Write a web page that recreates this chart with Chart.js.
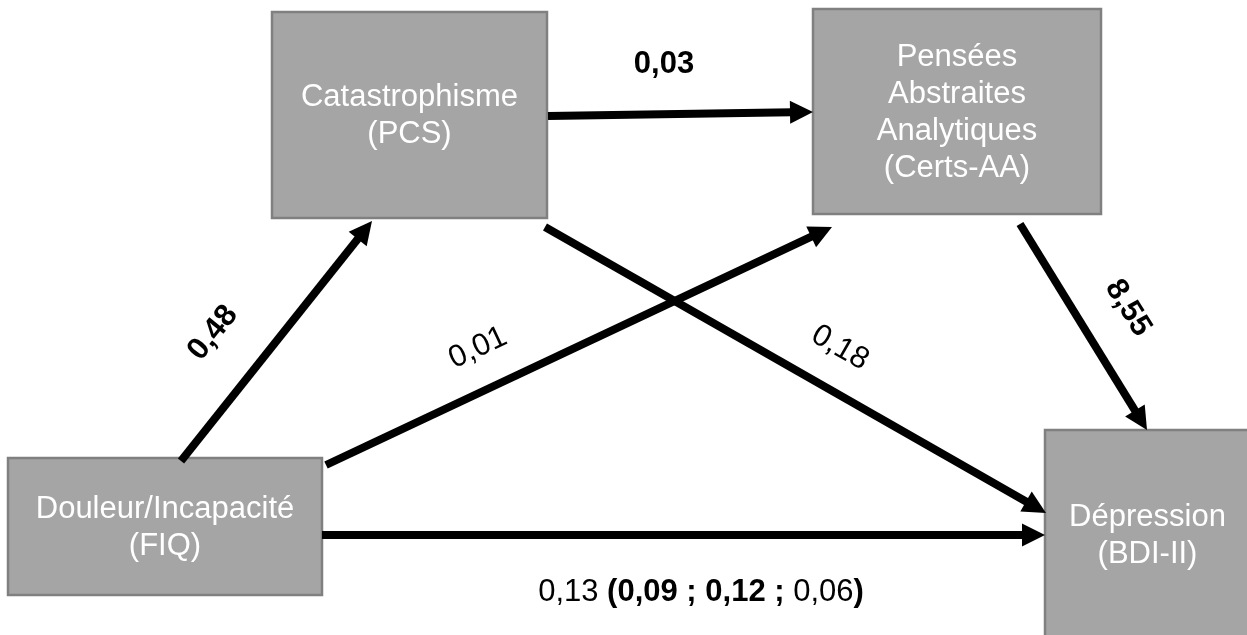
<!DOCTYPE html>
<html>
<head>
<meta charset="utf-8">
<script src="https://cdn.jsdelivr.net/npm/chart.js@4.4.1/dist/chart.umd.min.js"></script>
<style>
  html, body { margin: 0; padding: 0; background: #ffffff; overflow: hidden; }
  #diagram { display: block; }
</style>
</head>
<body>
<canvas id="diagram" width="1247" height="635"></canvas>
<script>
// variables (boxes)
const nodeKeys = ["pcs", "certs", "fiq", "bdi"];
const nodeLabels = [
    ["Catastrophisme", "(PCS)"],
    ["Pensées", "Abstraites", "Analytiques", "(Certs-AA)"],
    ["Douleur/Incapacité", "(FIQ)"],
    ["Dépression", "(BDI-II)"]
];

// paths and coefficients
const pathFrom = ["fiq", "fiq", "pcs", "pcs", "certs", "fiq"];
const pathTo = ["pcs", "certs", "certs", "bdi", "bdi", "bdi"];
const pathCoef = ["0,48", "0,01", "0,03", "0,18", "8,55", "0,13"];
const pathBold = [true, false, true, false, true, false];

// indirect effects shown after the direct effect FIQ -> BDI
const indirectCoef = ["0,09", "0,12", "0,06"];
const indirectBold = [true, true, false];

// layout (diagram units = pixels of the 1247x635 frame)
const boxLayout = {
    pcs:   { x0: 272,  y0: 12,  x1: 547,  y1: 218 },
    certs: { x0: 813,  y0: 9,   x1: 1101, y1: 214 },
    fiq:   { x0: 8,    y0: 458, x1: 322,  y1: 595 },
    bdi:   { x0: 1045, y0: 430, x1: 1250, y1: 640 }
};
const arrowLayout = [
    { from: [181, 461], to: [372, 221] },
    { from: [326, 465], to: [832, 227] },
    { from: [548, 116], to: [813, 112] },
    { from: [545, 227], to: [1046, 513] },
    { from: [1020, 224], to: [1147, 430] },
    { from: [322, 535], to: [1045, 535] }
];
const labelLayout = [
    { x: 213, y: 333, angle: -51 },
    { x: 478, y: 348, angle: -25 },
    { x: 664, y: 64,  angle: 0 },
    { x: 840, y: 348, angle: 30 },
    { x: 1128, y: 308, angle: 58 },
    { x: 701, y: 592, angle: 0 }
];

const FONT = "'Liberation Sans', Arial, sans-serif";
const FONT_SIZE = 31;
const LINE_HEIGHT = 37;

function font(bold) {
    return (bold ? "bold " : "") + FONT_SIZE + "px " + FONT;
}

const diagramPlugin = {
    id: "diagram",
    beforeDatasetsDraw(chart) {
        const ctx = chart.ctx;
        const xs = chart.scales.x, ys = chart.scales.y;
        ctx.save();
        nodeKeys.forEach((key, i) => {
            const b = boxLayout[key];
            const px0 = xs.getPixelForValue(b.x0), px1 = xs.getPixelForValue(b.x1);
            const py0 = ys.getPixelForValue(b.y0), py1 = ys.getPixelForValue(b.y1);
            ctx.fillStyle = "#a5a5a5";
            ctx.fillRect(px0, py0, px1 - px0, py1 - py0);
            ctx.strokeStyle = "#808080";
            ctx.lineWidth = 2.5;
            ctx.strokeRect(px0, py0, px1 - px0, py1 - py0);

            const lines = nodeLabels[i];
            const cx = (px0 + px1) / 2;
            const cy = (py0 + py1) / 2;
            ctx.fillStyle = "#ffffff";
            ctx.font = font(false);
            ctx.textAlign = "center";
            ctx.textBaseline = "middle";
            const top = cy - (lines.length - 1) * LINE_HEIGHT / 2;
            lines.forEach((t, j) => ctx.fillText(t, cx, top + j * LINE_HEIGHT + 1));
        });
        ctx.restore();
    },
    afterDatasetsDraw(chart) {
        const ctx = chart.ctx;
        ctx.save();
        chart.data.datasets.forEach((ds, i) => {
            const pts = chart.getDatasetMeta(i).data;
            const a = pts[0], b = pts[1];
            const dx = b.x - a.x, dy = b.y - a.y;
            const len = Math.hypot(dx, dy);
            const ux = dx / len, uy = dy / len;
            const headLen = 23, headHalf = 11.5;
            const bx = b.x - ux * headLen, by = b.y - uy * headLen;

            ctx.strokeStyle = "#000000";
            ctx.lineWidth = 8;
            ctx.lineCap = "butt";
            ctx.beginPath();
            ctx.moveTo(a.x, a.y);
            ctx.lineTo(bx + ux * 2, by + uy * 2);
            ctx.stroke();

            ctx.fillStyle = "#000000";
            ctx.beginPath();
            ctx.moveTo(b.x, b.y);
            ctx.lineTo(bx - uy * headHalf, by + ux * headHalf);
            ctx.lineTo(bx + uy * headHalf, by - ux * headHalf);
            ctx.closePath();
            ctx.fill();
        });

        // coefficient labels
        const xs = chart.scales.x, ys = chart.scales.y;
        ctx.fillStyle = "#000000";
        ctx.textBaseline = "middle";
        for (let i = 0; i < pathCoef.length - 1; i++) {
            const l = labelLayout[i];
            ctx.save();
            ctx.translate(xs.getPixelForValue(l.x), ys.getPixelForValue(l.y));
            ctx.rotate(l.angle * Math.PI / 180);
            ctx.font = font(pathBold[i]);
            ctx.textAlign = "center";
            ctx.fillText(pathCoef[i], 0, 0);
            ctx.restore();
        }

        // direct effect with indirect effects, mixed weights
        const last = pathCoef.length - 1;
        const segs = [[pathCoef[last] + " ", pathBold[last]], ["(", true]];
        indirectCoef.forEach((c, k) => {
            if (k > 0) segs.push([" ; ", true]);
            segs.push([c, indirectBold[k]]);
        });
        segs.push([")", true]);
        let total = 0;
        segs.forEach(s => { ctx.font = font(s[1]); total += ctx.measureText(s[0]).width; });
        const l = labelLayout[last];
        let x = xs.getPixelForValue(l.x) - total / 2;
        const y = ys.getPixelForValue(l.y);
        ctx.textAlign = "left";
        segs.forEach(s => {
            ctx.font = font(s[1]);
            ctx.fillText(s[0], x, y);
            x += ctx.measureText(s[0]).width;
        });
        ctx.restore();
    }
};

const datasets = pathFrom.map((from, i) => ({
    label: from + " -> " + pathTo[i] + " (" + pathCoef[i] + ")",
    data: [
        { x: arrowLayout[i].from[0], y: arrowLayout[i].from[1] },
        { x: arrowLayout[i].to[0], y: arrowLayout[i].to[1] }
    ],
    showLine: false,
    pointRadius: 0,
    pointHoverRadius: 0,
    pointBorderWidth: 0
}));

new Chart(document.getElementById("diagram"), {
    type: "scatter",
    data: { datasets: datasets },
    options: {
        responsive: false,
        animation: false,
        layout: { padding: 0, autoPadding: false },
        plugins: {
            legend: { display: false },
            tooltip: { enabled: false }
        },
        scales: {
            x: { type: "linear", min: 0, max: 1247, display: false },
            y: { type: "linear", min: 0, max: 635, reverse: true, display: false }
        }
    },
    plugins: [diagramPlugin]
});
</script>
</body>
</html>
